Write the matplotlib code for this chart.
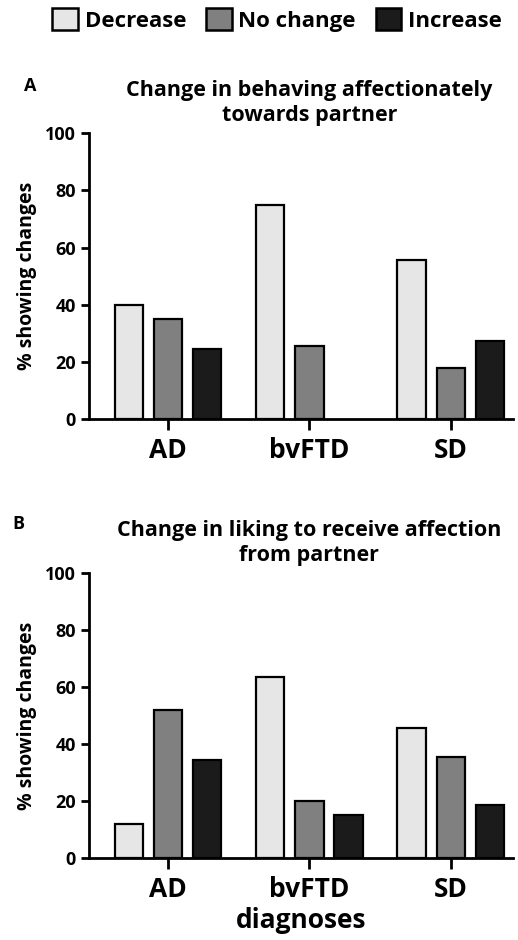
import matplotlib.pyplot as plt
from matplotlib.patches import Patch
import numpy as np

plt.rcParams['font.family'] = ['Open Sans', 'DejaVu Sans']
plt.rcParams['font.weight'] = 'bold'

diagnoses = ['AD', 'bvFTD', 'SD']
change_types = ['Decrease', 'No change', 'Increase']
colours = ['#e6e6e6', '#808080', '#1b1b1b']

# panel A: behaving affectionately towards partner
behave_decrease = [40, 75, 55.5]
behave_nochange = [35, 25.5, 18]
behave_increase = [24.5, 0, 27.5]

# panel B: liking to receive affection from partner
receive_decrease = [12, 63.5, 45.5]
receive_nochange = [52, 20, 35.5]
receive_increase = [34.5, 15, 18.5]

yticks = [0, 20, 40, 60, 80, 100]


def draw_panel(ax, series, title, show_xlabel):
    x = np.arange(len(diagnoses))
    width = 0.2
    offsets = [-0.277, 0, 0.277]
    for vals, off, col in zip(series, offsets, colours):
        lws = [1.6 if v > 0 else 0 for v in vals]
        ax.bar(x + off, vals, width, color=col, edgecolor='black', linewidth=lws)
    ax.set_xlim(-0.56, 2.44)
    ax.set_ylim(0, 100)
    ax.set_yticks(yticks)
    ax.set_xticks(x)
    ax.set_xticklabels(diagnoses, fontsize=19, fontweight='bold')
    ax.tick_params(axis='y', labelsize=13, width=2, length=6)
    ax.tick_params(axis='x', width=2, length=8, pad=5)
    for s in ['top', 'right']:
        ax.spines[s].set_visible(False)
    for s in ['left', 'bottom']:
        ax.spines[s].set_linewidth(2)
    ax.set_ylabel('% showing changes', fontsize=14, fontweight='bold', labelpad=6)
    ax.set_title(title, fontsize=15.5, fontweight='bold', pad=9, x=0.52,
                 linespacing=1.2)
    if show_xlabel:
        ax.set_xlabel('diagnoses', fontsize=19, fontweight='bold', labelpad=3)


fig = plt.figure(figsize=(5.18, 9.4), dpi=100)
ax1 = fig.add_axes([0.172, 0.554, 0.818, 0.3045])
ax2 = fig.add_axes([0.172, 0.0872, 0.818, 0.3032])

draw_panel(ax1, [behave_decrease, behave_nochange, behave_increase],
           'Change in behaving affectionately\ntowards partner', False)
draw_panel(ax2, [receive_decrease, receive_nochange, receive_increase],
           'Change in liking to receive affection\nfrom partner', True)

fig.text(0.058, 0.909, 'A', fontsize=13, fontweight='bold', ha='center', va='center')
fig.text(0.035, 0.443, 'B', fontsize=13, fontweight='bold', ha='center', va='center')

handles = [Patch(facecolor=c, edgecolor='black', linewidth=1.8) for c in colours]
fig.legend(handles, change_types, loc='center', bbox_to_anchor=(0.535, 0.979),
           ncol=3, frameon=False, fontsize=16, handlelength=1.15, handleheight=1.15,
           columnspacing=0.9, handletextpad=0.3)

fig.savefig('out.png', dpi=100)
